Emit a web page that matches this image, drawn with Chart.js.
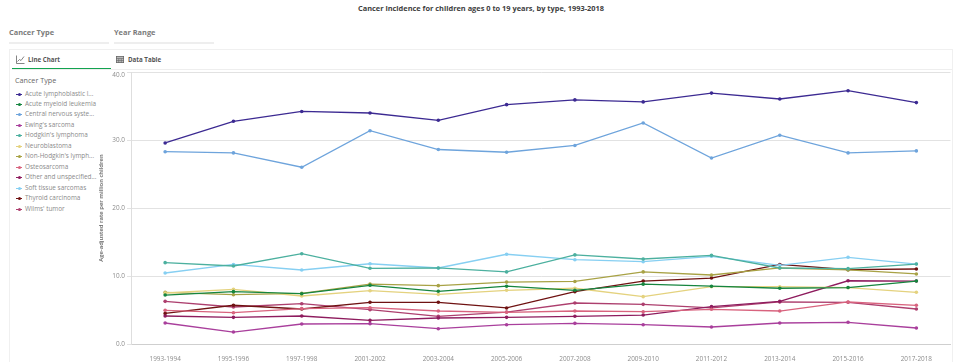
<!DOCTYPE html>
<html><head><meta charset="utf-8">
<script src="https://cdn.jsdelivr.net/npm/chart.js@4"></script>
<style>
html,body{margin:0;padding:0;background:#fff;width:960px;height:362px;overflow:hidden;font-family:"Open Sans",sans-serif}
.a{position:absolute;white-space:nowrap}
canvas{position:absolute;left:0;top:0}
#legend div.row{position:absolute;left:15px;width:90px;height:10px;font-size:6.4px;line-height:10px;color:#8a8a8a;white-space:nowrap}
#legend i{position:absolute;left:1px;top:5px;width:6px;height:1px}
#legend b{position:absolute;left:2.5px;top:4px;width:3px;height:3px;border-radius:50%}
#legend span{position:absolute;left:10px}
</style></head><body>
<div class="a" style="left:0;width:962px;top:3px;text-align:center;font-size:7.4px;font-weight:700;color:#404040;line-height:11px">Cancer incidence for children ages 0 to 19 years, by type, 1993-2018</div>
<div class="a" style="left:9px;top:26px;font-size:7.4px;font-weight:700;color:#7b7b7b;line-height:12px">Cancer Type</div>
<div class="a" style="left:114px;top:26px;font-size:7.4px;font-weight:700;color:#7b7b7b;line-height:12px">Year Range</div>
<div class="a" style="left:9px;top:42px;width:100px;height:2px;background:#eee"></div>
<div class="a" style="left:114px;top:42px;width:100px;height:2px;background:#eee"></div>
<div class="a" style="left:9px;top:49px;width:943px;height:1px;background:#f0f0f0"></div>
<div class="a" style="left:9px;top:49px;width:1px;height:313px;background:#f0f0f0"></div>
<div class="a" style="left:952px;top:49px;width:1px;height:313px;background:#f0f0f0"></div>
<div class="a" style="left:12px;top:69px;width:940px;height:1px;background:#eeeeee"></div>
<div class="a" style="left:12px;top:68px;width:99px;height:1.4px;background:#12a350"></div>
<svg class="a" style="left:16px;top:55px" width="9" height="9" viewBox="0 0 9 9"><path d="M.5 .5V8.5H8.5" fill="none" stroke="#666" stroke-width=".8"/><path d="M1.5 6.5L3.5 4.5 5 5.5 8 1.5" fill="none" stroke="#666" stroke-width=".8"/></svg>
<div class="a" style="left:28px;top:54px;font-size:6.2px;font-weight:700;color:#555;line-height:11px">Line Chart</div>
<svg class="a" style="left:116px;top:56px" width="8" height="7" viewBox="0 0 8 7"><rect x=".4" y=".4" width="7.2" height="6.2" fill="#bbb" stroke="#666" stroke-width=".8"/><path d="M0 2.5H8M0 4.5H8M2.7 2.5V7M5.3 2.5V7" stroke="#666" stroke-width=".6"/></svg>
<div class="a" style="left:128px;top:54px;font-size:6.2px;font-weight:700;color:#555;line-height:11px">Data Table</div>
<div class="a" style="left:15px;top:74px;font-size:7.2px;color:#666;line-height:12px">Cancer Type</div>
<div id="legend"></div>
<canvas id="c" width="960" height="362"></canvas>
<script>
const categories = ["1993-1994","1995-1996","1997-1998","2001-2002","2003-2004","2005-2006","2007-2008","2009-2010","2011-2012","2013-2014","2015-2016","2017-2018"];
const seriesNames = ["Acute lymphoblastic leukemia","Acute myeloid leukemia","Central nervous system tumors","Ewing's sarcoma","Hodgkin's lymphoma","Neuroblastoma","Non-Hodgkin's lymphoma","Osteosarcoma","Other and unspecified cancers","Soft tissue sarcomas","Thyroid carcinoma","Wilms' tumor"];
const legendLabels = ["Acute lymphoblastic l...","Acute myeloid leukemia","Central nervous syste...","Ewing's sarcoma","Hodgkin's lymphoma","Neuroblastoma","Non-Hodgkin's lymph...","Osteosarcoma","Other and unspecified...","Soft tissue sarcomas","Thyroid carcinoma","Wilms' tumor"];
const colors = ["#3c2a92","#16853f","#6ea4dc","#a93f9c","#4cb09f","#e4d27e","#a8a245","#d8637e","#8e1c5e","#86cff2","#6f1212","#ad3f6e"];
const all = [29.56,32.75,34.2,33.97,32.9,35.2,35.9,35.6,36.9,36.03,37.25,35.5];
const aml = [7.2,7.7,7.4,8.63,7.75,8.5,7.9,8.8,8.5,8.2,8.3,9.26];
const cns = [28.28,28.1,26.0,31.37,28.6,28.2,29.2,32.5,27.35,30.7,28.1,28.4];
const ewing = [3.09,1.76,2.94,2.99,2.25,2.84,3.04,2.84,2.5,3.09,3.19,2.35];
const hodgkin = [11.96,11.47,13.28,11.13,11.18,10.6,13.1,12.5,13.04,11.18,11.08,11.76];
const neuro = [7.5,8.04,7.06,7.84,7.3,7.9,8.2,6.96,8.43,8.43,8.28,7.6];
const nhl = [7.6,7.25,7.45,8.8,8.58,9.1,9.2,10.6,10.15,11.18,10.9,10.3];
const osteo = [4.95,4.6,5.2,5.34,4.85,4.66,4.85,4.75,5.1,4.85,6.18,5.69];
const other = [4.12,3.92,4.12,3.48,3.82,3.92,4.07,4.26,5.49,6.27,9.3,9.26];
const soft = [10.44,11.7,10.88,11.8,11.18,13.2,12.4,12.1,12.9,11.57,12.75,11.76];
const thyroid = [4.5,5.7,5.15,6.13,6.13,5.3,7.7,9.26,9.7,11.7,10.93,11.03];
const wilms = [6.27,5.44,5.93,5.05,4.07,4.7,6.03,5.83,5.3,6.18,6.13,5.15];
const seriesValues = [all,aml,cns,ewing,hodgkin,neuro,nhl,osteo,other,soft,thyroid,wilms];
const yTicks = [0,10,20,30,40];

const legendEl = document.getElementById('legend');
legendLabels.forEach((t,i)=>{
  const d=document.createElement('div');d.className='row';d.style.top=Math.round(88.5+i*10.47)+'px';
  d.innerHTML='<i style="background:'+colors[i]+'"></i><b style="background:'+colors[i]+'"></b><span></span>';
  d.querySelector('span').textContent=t;legendEl.appendChild(d);
});

const shiftTop = {id:'shiftTop',beforeDraw(ch){
  const s=ch.scales.y;
  s.getLabelItems().forEach(it=>{ if(it.label==='40.0'&&!it._moved){it.options.translation[1]+=3;it._moved=true;} });
}};

new Chart(document.getElementById('c'),{
  type:'line',
  data:{labels:categories,datasets:seriesNames.map((n,i)=>({
    label:n,data:seriesValues[i],borderColor:colors[i],backgroundColor:colors[i],
    borderWidth:1.3,pointRadius:1.8,pointHoverRadius:2,pointBorderWidth:0,tension:0,fill:false
  }))},
  plugins:[shiftTop],
  options:{
    responsive:false,animation:false,
    layout:{padding:{left:0,right:9.5,top:72,bottom:0}},
    plugins:{legend:{display:false},title:{display:false},tooltip:{enabled:false}},
    scales:{
      x:{type:'category',offset:true,
        grid:{display:false},border:{color:'#cfcfcf',width:1},
        ticks:{color:'#8c8c8c',font:{family:'"Open Sans"',size:6.4},maxRotation:0,minRotation:0,autoSkip:false,padding:3},
        afterFit(s){s.height=18;}
      },
      y:{type:'linear',min:0,max:40,
        afterBuildTicks(s){s.ticks=yTicks.map(v=>({value:v}));},
        grid:{color:'#e2e2e2',lineWidth:1,tickLength:4,tickColor:'#e2e2e2'},
        border:{color:'#dedede',width:1},
        ticks:{color:'#8c8c8c',font:{family:'"Open Sans"',size:6.4},padding:2,callback:v=>v.toFixed(1)},
        title:{display:true,text:'Age-adjusted rate per million children',color:'#666',font:{family:'"Open Sans"',size:5.9,weight:'600'},padding:{top:98,bottom:0}},
        afterFit(s){s.width=131;}
      }
    }
  }
});
</script>
</body></html>
